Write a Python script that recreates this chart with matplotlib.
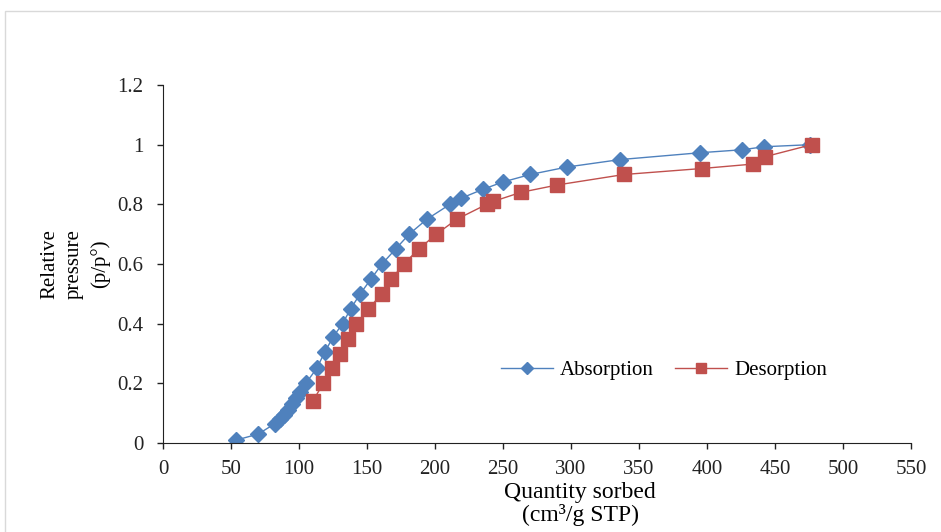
# sorption isotherm: relative pressure vs quantity sorbed
import matplotlib.pyplot as plt
from matplotlib.patches import Rectangle

plt.rcParams['font.family'] = ['Liberation Serif', 'DejaVu Serif']

# absorption branch
abs_x = [54, 70, 82, 86, 89, 92, 95, 98, 101, 105, 113, 119, 125, 132, 138, 145,
         153, 161, 171, 181, 194, 211, 219, 235, 250, 270, 297, 336, 395, 426, 442, 476]
abs_y = [0.01, 0.03, 0.064, 0.08, 0.094, 0.11, 0.13, 0.15, 0.17, 0.20, 0.25, 0.305,
         0.355, 0.40, 0.45, 0.50, 0.55, 0.60, 0.65, 0.70, 0.75, 0.80, 0.82, 0.85,
         0.875, 0.90, 0.925, 0.95, 0.973, 0.983, 0.993, 1.0]

# desorption branch
des_x = [110, 118, 124, 130, 136, 142, 151, 161, 168, 177, 188, 201, 216, 238, 243,
         263, 290, 339, 396, 434, 443, 477]
des_y = [0.14, 0.20, 0.25, 0.30, 0.35, 0.40, 0.45, 0.50, 0.55, 0.60, 0.65, 0.70,
         0.75, 0.80, 0.81, 0.84, 0.865, 0.90, 0.92, 0.935, 0.96, 1.0]

fig = plt.figure(figsize=(9.41, 5.32), dpi=100)
ax = fig.add_axes([163/941, 1 - 443/532, (911-163)/941, (443-85)/532])

ax.plot(abs_x, abs_y, color="#4F81BD", lw=1, marker="D", ms=8.5, label="Absorption")
ax.plot(des_x, des_y, color="#C0504D", lw=1, marker="s", ms=10.5, label="Desorption")

ax.set_xlim(0, 550)
ax.set_ylim(0, 1.2)
ax.set_xticks(range(0, 551, 50))
ax.set_yticks([0, 0.2, 0.4, 0.6, 0.8, 1.0, 1.2])
ax.set_yticklabels(["0", "0.2", "0.4", "0.6", "0.8", "1", "1.2"])
ax.tick_params(labelsize=15, length=4, width=1, colors="#222222")
ax.tick_params(axis="y", pad=10)
ax.tick_params(axis="x", pad=8)
ax.spines["top"].set_visible(False)
ax.spines["right"].set_visible(False)
ax.spines["left"].set_color("#222222")
ax.spines["bottom"].set_color("#222222")

ax.set_xlabel("Quantity sorbed\n(cm³/g STP)", fontsize=17, linespacing=1.05)
ax.xaxis.set_label_coords((580-163)/748, (443-482)/358)
ax.set_ylabel("Relative\npressure\n(p/p°)", fontsize=15, linespacing=1.4)
ax.yaxis.set_label_coords((110-163)/748, 0.5)

ax.legend(loc="center", bbox_to_anchor=((664-163)/748, (443-370)/358), ncol=2,
          frameon=False, fontsize=15, handlelength=2.5, columnspacing=1.0,
          handletextpad=0.35, markerscale=0.7)

# outer chart border
fig.patches.append(Rectangle((5/941, -0.05), 1.1, 1 - 11/532 + 0.05,
                             transform=fig.transFigure, fill=False,
                             edgecolor="#D9D9D9", lw=1))

plt.savefig("out.png", dpi=100)
